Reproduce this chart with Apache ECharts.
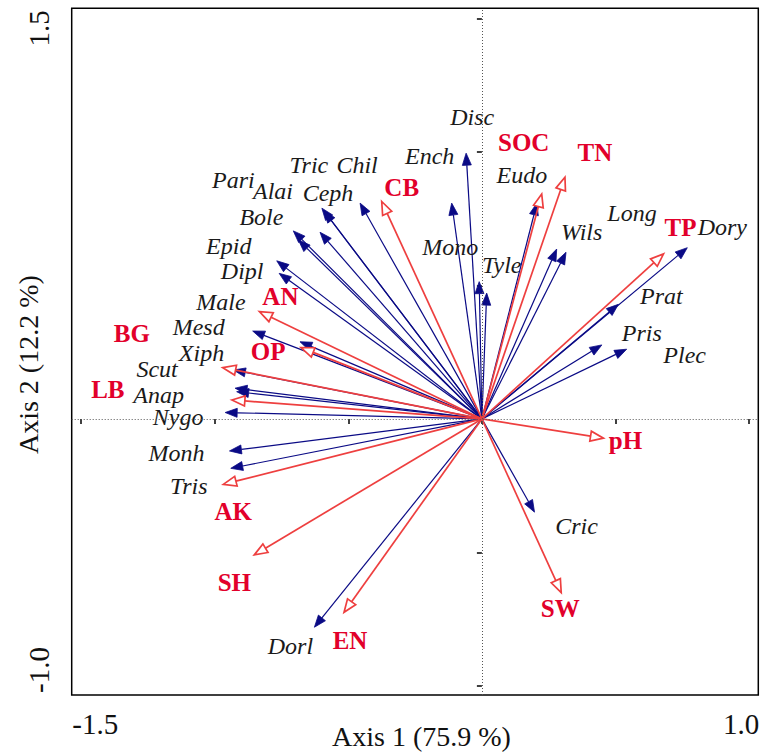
<!DOCTYPE html>
<html>
<head>
<meta charset="utf-8">
<title>RDA biplot</title>
<script src="https://cdn.jsdelivr.net/npm/echarts@6/dist/echarts.min.js"></script>
<style>
  html, body { margin: 0; padding: 0; background: #fff; }
  #chart { width: 771px; height: 754px; }
</style>
</head>
<body>
<div id="chart"></div>
<script>
// species scores (arrow tips)
const speciesNames = ['Disc', 'Ench', 'Mono', 'Tyle', 'Eudo', 'Wils', 'Long', 'Dory', 'Prat', 'Pris',
  'Plec', 'Cric', 'Dorl', 'Pari', 'Alai', 'Tric', 'Ceph', 'Chil', 'Bole', 'Epid',
  'Dipl', 'Male', 'Mesd', 'Xiph', 'Scut', 'Anap', 'Nygo', 'Monh', 'Tris']
const speciesX = [-0.059, -0.113, -0.010, 0.018, 0.206, 0.280, 0.315, 0.769, 0.511, 0.449,
  0.542, 0.197, -0.627, -0.706, -0.606, -0.599, -0.591, -0.456, -0.687, -0.768,
  -0.759, -0.681, -0.858, -0.930, -0.924, -0.918, -0.961, -0.945, -0.940]
const speciesY = [0.995, 0.808, 0.514, 0.471, 0.808, 0.636, 0.624, 0.641, 0.429, 0.277,
  0.261, -0.349, -0.780, 0.704, 0.699, 0.789, 0.779, 0.808, 0.670, 0.592,
  0.545, 0.289, 0.329, 0.183, 0.115, 0.102, 0.024, -0.120, -0.185]

// environmental variables (arrow tips)
const envNames = ['CB', 'SOC', 'TN', 'TP', 'AN', 'OP', 'BG', 'LB', 'pH', 'AK', 'SH', 'EN', 'SW']
const envX = [-0.375, 0.224, 0.311, 0.680, -0.833, -0.677, -0.970, -0.936, 0.455, -0.968, -0.852, -0.516, 0.297]
const envY = [0.814, 0.842, 0.905, 0.618, 0.402, 0.267, 0.192, 0.071, -0.072, -0.245, -0.509, -0.724, -0.650]

// axes
const xTicks = [-1.5, -1.0, -0.5, 0, 0.5, 1.0]
const yTicks = [-1.0, -0.5, 0, 0.5, 1.0, 1.5]
const xTickLabels = [-1.5, 1.0]
const yTickLabels = [-1.0, 1.5]

// label offsets from arrow tips, in pixels
const speciesLabelOffset = [[6, -36], [-22, -47], [-29, -35], [15, -28], [-15, -28], [25, -17], [66, -39], [35, -21], [43, -8], [40, -12],
  [58, 6], [42, 14], [-24, 19], [-60, -51], [-47, -41], [-13, -43], [4, -18], [-3, -38], [-37, -23], [-48, -15],
  [-37, -2], [-79, -40], [-54, -4], [-32, -17], [-78, -19], [-78, 3], [-47, 4], [-53, 2], [-42, 18]]
const envLabelOffset = [[20, -14], [-18, -52], [30, -25], [17, -26], [21, -15], [-33, 4], [-91, -34], [-124, -10],
  [22, 2], [10, 27], [-20, 28], [6, 28], [-1, 16]]

const SERIF = 'Liberation Serif'
const NAVY = '#0a0a85'
const RED_LINE = '#ee3f3f'
const RED_TEXT = '#e2002b'

const chart = echarts.init(document.getElementById('chart'), null, { renderer: 'svg' })

// arrow from origin to (x, y) with a head and a text label
const makeArrow = (cfg) => (params, api) => {
  const o = api.coord([0, 0])
  const t = api.coord([api.value(0), api.value(1)])
  const dx = t[0] - o[0]
  const dy = t[1] - o[1]
  const len = Math.hypot(dx, dy)
  const ux = dx / len
  const uy = dy / len
  const bx = t[0] - ux * cfg.headLen
  const by = t[1] - uy * cfg.headLen
  const p1 = [bx - uy * cfg.headHalf, by + ux * cfg.headHalf]
  const p2 = [bx + uy * cfg.headHalf, by - ux * cfg.headHalf]
  const off = cfg.offsets[params.dataIndex]
  return {
    type: 'group',
    children: [
      {
        type: 'line',
        shape: { x1: o[0], y1: o[1], x2: bx, y2: by },
        style: { stroke: cfg.color, lineWidth: cfg.lineWidth }
      },
      {
        type: 'polygon',
        shape: { points: [t, p1, p2] },
        style: cfg.filled
          ? { fill: cfg.color, stroke: cfg.color, lineWidth: 0.8 }
          : { fill: '#fff', stroke: cfg.color, lineWidth: cfg.lineWidth }
      },
      {
        type: 'text',
        x: t[0] + off[0],
        y: t[1] + off[1],
        style: {
          text: cfg.names[params.dataIndex],
          fontFamily: SERIF,
          fontSize: cfg.fontSize,
          fontStyle: cfg.fontStyle,
          fontWeight: cfg.fontWeight,
          fill: cfg.textColor,
          align: 'center',
          verticalAlign: 'middle'
        }
      }
    ]
  }
}

const option = {
  animation: false,
  grid: {
    left: 71.7,
    top: 8.3,
    width: 686.6,
    height: 686.7,
    containLabel: false,
    outerBoundsMode: 'none',
    show: true,
    borderColor: '#000',
    borderWidth: 1.5,
    backgroundColor: '#fff'
  },
  xAxis: {
    type: 'value',
    min: -1.5356,
    max: 1.0348,
    name: 'Axis 1 (75.9 %)',
    nameLocation: 'middle',
    nameGap: 27,
    nameMoveOverlap: false,
    nameTextStyle: { fontFamily: SERIF, fontSize: 28, color: '#111', padding: [0, 0, 0, 13] },
    axisLine: { show: false },
    splitLine: { show: false },
    axisTick: {
      show: true,
      length: 5,
      customValues: xTicks,
      lineStyle: { color: '#000', width: 1.5 }
    },
    axisLabel: {
      customValues: xTickLabels,
      margin: 14,
      formatter: (v) => (v < 0 ? '{l|' + v.toFixed(1) + '}' : '{r|' + v.toFixed(1) + '}'),
      rich: {
        l: { fontFamily: SERIF, fontSize: 29, color: '#111', padding: [0, 0, 0, 28] },
        r: { fontFamily: SERIF, fontSize: 29, color: '#111', padding: [0, 16, 0, 0] }
      }
    }
  },
  yAxis: {
    type: 'value',
    min: -1.0337,
    max: 1.5374,
    name: 'Axis 2 (12.2 %)',
    nameLocation: 'middle',
    nameRotate: 90,
    nameGap: 29,
    nameMoveOverlap: false,
    nameTextStyle: { fontFamily: SERIF, fontSize: 28, color: '#111', padding: [0, 26, 0, 0] },
    axisLine: { show: false },
    splitLine: { show: false },
    axisTick: {
      show: true,
      length: 5,
      customValues: yTicks,
      lineStyle: { color: '#000', width: 1.5 }
    },
    axisLabel: {
      customValues: yTickLabels,
      rotate: 90,
      margin: 18,
      formatter: (v) => (v < 0 ? '{l|' + v.toFixed(1) + '}' : '{r|' + v.toFixed(1) + '}'),
      rich: {
        l: { fontFamily: SERIF, fontSize: 29, color: '#111', padding: [0, 0, 0, 32] },
        r: { fontFamily: SERIF, fontSize: 29, color: '#111', padding: [0, 20, 0, 0] }
      }
    }
  },
  series: [
    {
      // dotted zero lines
      type: 'line',
      data: [],
      silent: true,
      markLine: {
        silent: true,
        symbol: 'none',
        label: { show: false },
        lineStyle: { color: '#555', width: 1, type: [1, 2] },
        data: [{ xAxis: 0 }, { yAxis: 0 }]
      }
    },
    {
      type: 'custom',
      silent: true,
      data: speciesX.map((x, i) => [x, speciesY[i]]),
      renderItem: makeArrow({
        names: speciesNames,
        offsets: speciesLabelOffset,
        color: NAVY,
        lineWidth: 1.2,
        headLen: 12,
        headHalf: 4.5,
        filled: true,
        fontSize: 24,
        fontStyle: 'italic',
        fontWeight: 'normal',
        textColor: '#1a1a1a'
      })
    },
    {
      type: 'custom',
      silent: true,
      data: envX.map((x, i) => [x, envY[i]]),
      renderItem: makeArrow({
        names: envNames,
        offsets: envLabelOffset,
        color: RED_LINE,
        lineWidth: 1.7,
        headLen: 13,
        headHalf: 5,
        filled: false,
        fontSize: 25,
        fontStyle: 'normal',
        fontWeight: 'bold',
        textColor: RED_TEXT
      })
    }
  ]
}

chart.setOption(option)
</script>
</body>
</html>
